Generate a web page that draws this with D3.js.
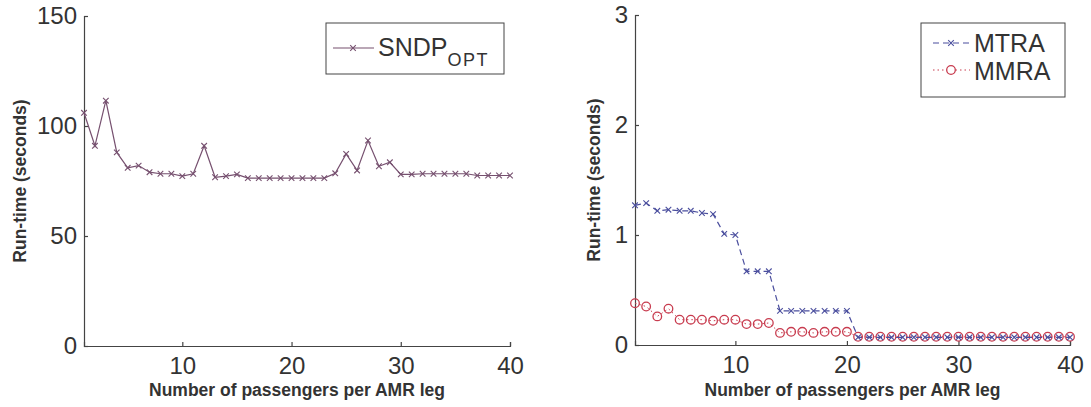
<html>
<head>
<meta charset="utf-8">
<script src="https://cdn.jsdelivr.net/npm/d3@7"></script>
<style>
  body { margin: 0; background: #fff; }
  text { font-family: "Liberation Sans", Arial, sans-serif; fill: #333; }
</style>
</head>
<body>
<svg width="1091" height="407"></svg>
<script>
// passengers per AMR leg
var passengers = [1,2,3,4,5,6,7,8,9,10,11,12,13,14,15,16,17,18,19,20,
                  21,22,23,24,25,26,27,28,29,30,31,32,33,34,35,36,37,38,39,40];

// left panel: SNDP_OPT run-time (seconds)
var sndpOpt = [106, 91, 111.5, 88, 81, 82, 79, 78.3, 78.3, 77.2,
               78.3, 91, 76.7, 77.2, 78, 76.3, 76.3, 76.3, 76.3, 76.3,
               76.3, 76.3, 76.3, 78.5, 87.3, 79.8, 93.4, 81.7, 83.5, 78,
               78, 78.3, 78.3, 78.3, 78.3, 78.3, 77.5, 77.5, 77.5, 77.5];

// right panel: MTRA and MMRA run-time (seconds)
var mtra = [1.27, 1.29, 1.22, 1.23, 1.22, 1.22, 1.20, 1.19, 1.01, 1.00,
            0.67, 0.67, 0.67, 0.31, 0.31, 0.31, 0.31, 0.31, 0.31, 0.31,
            0.07, 0.07, 0.07, 0.07, 0.07, 0.07, 0.07, 0.07, 0.07, 0.07,
            0.07, 0.07, 0.07, 0.07, 0.07, 0.07, 0.07, 0.07, 0.07, 0.07];
var mmra = [0.38, 0.35, 0.26, 0.33, 0.23, 0.23, 0.23, 0.22, 0.23, 0.23,
            0.19, 0.19, 0.20, 0.11, 0.12, 0.12, 0.11, 0.12, 0.12, 0.12,
            0.075, 0.075, 0.075, 0.075, 0.075, 0.075, 0.075, 0.075, 0.075, 0.075,
            0.075, 0.075, 0.075, 0.075, 0.075, 0.075, 0.075, 0.075, 0.075, 0.075];

var xTicks = [10, 20, 30, 40];
var leftYTicks = [0, 50, 100, 150];
var rightYTicks = [0, 1, 2, 3];
var xTitle = 'Number of passengers per AMR leg';
var yTitle = 'Run-time (seconds)';

var svg = d3.select('svg');
var axisColor = '#444';

function xMarker(g, pts, color) {
  g.selectAll(null).data(pts).enter().append('path')
    .attr('d', function(d) {
      var s = 2.8;
      return 'M' + (d[0]-s) + ',' + (d[1]-s) + 'L' + (d[0]+s) + ',' + (d[1]+s) +
             'M' + (d[0]-s) + ',' + (d[1]+s) + 'L' + (d[0]+s) + ',' + (d[1]-s);
    })
    .attr('stroke', color).attr('stroke-width', 1.1).attr('fill', 'none');
}

function drawAxes(x, y, yTicks, yLabelX) {
  var gx = svg.append('g')
    .attr('transform', 'translate(0,' + y.range()[0] + ')')
    .call(d3.axisBottom(x).tickValues(xTicks).tickFormat(d3.format('d'))
      .tickSizeInner(-4).tickSizeOuter(-4).tickPadding(11));
  var gy = svg.append('g')
    .attr('transform', 'translate(' + x.range()[0] + ',0)')
    .call(d3.axisLeft(y).tickValues(yTicks).tickFormat(d3.format('d'))
      .tickSizeInner(-4).tickSizeOuter(-4).tickPadding(7));
  [gx, gy].forEach(function(g) {
    g.selectAll('path, line').attr('stroke', axisColor).attr('stroke-width', 1.2);
    g.selectAll('text').attr('font-size', 24).attr('fill', '#3a3a3a')
      .style('font-family', '"Liberation Sans", Arial, sans-serif');
  });
  svg.append('text')
    .attr('x', (x.range()[0] + x.range()[1]) / 2).attr('y', 396)
    .attr('text-anchor', 'middle').attr('font-size', 17.5).attr('font-weight', 'bold')
    .attr('fill', '#4a4a4a').text(xTitle);
  svg.append('text')
    .attr('transform', 'translate(' + yLabelX + ',' + (y.range()[0] + y.range()[1]) / 2 + ') rotate(-90)')
    .attr('text-anchor', 'middle').attr('font-size', 17.5).attr('font-weight', 'bold')
    .attr('fill', '#4a4a4a').text(yTitle);
}

// ---------- left panel ----------
var x1 = d3.scaleLinear().domain([1, 40]).range([84, 510]);
var y1 = d3.scaleLinear().domain([0, 150]).range([346, 16]);
drawAxes(x1, y1, leftYTicks, 26);

var purple = '#76506f';
var line1 = d3.line().x(function(d, i) { return x1(passengers[i]); }).y(function(d) { return y1(d); });
svg.append('path').datum(sndpOpt).attr('d', line1)
  .attr('fill', 'none').attr('stroke', purple).attr('stroke-width', 1.2);
xMarker(svg.append('g'), sndpOpt.map(function(d, i) { return [x1(passengers[i]), y1(d)]; }), purple);

// legend left
var lg1 = svg.append('g');
lg1.append('rect').attr('x', 326).attr('y', 23).attr('width', 178).attr('height', 51)
  .attr('fill', '#fff').attr('stroke', axisColor).attr('stroke-width', 1);
lg1.append('line').attr('x1', 333).attr('x2', 374).attr('y1', 48).attr('y2', 48)
  .attr('stroke', purple).attr('stroke-width', 1.2);
xMarker(lg1, [[353, 48]], purple);
var t1 = lg1.append('text').attr('x', 378).attr('y', 56).attr('font-size', 25);
t1.append('tspan').text('SNDP');
t1.append('tspan').attr('font-size', 18).attr('dy', 10).attr('letter-spacing', 1.5).text('OPT');

// ---------- right panel ----------
var x2 = d3.scaleLinear().domain([1, 40]).range([635, 1070]);
var y2 = d3.scaleLinear().domain([0, 3]).range([345, 15]);
drawAxes(x2, y2, rightYTicks, 600);

var blue = '#4b4f9e', red = '#c83c4f';
var line2 = d3.line().x(function(d, i) { return x2(passengers[i]); }).y(function(d) { return y2(d); });
svg.append('path').datum(mmra).attr('d', line2)
  .attr('fill', 'none').attr('stroke', red).attr('stroke-width', 1).attr('stroke-dasharray', '1.5,3');
svg.append('g').selectAll('circle').data(mmra).enter().append('circle')
  .attr('cx', function(d, i) { return x2(passengers[i]); })
  .attr('cy', function(d) { return y2(d); })
  .attr('r', 4.3).attr('fill', 'none').attr('stroke', red).attr('stroke-width', 1.3);
svg.append('path').datum(mtra).attr('d', line2)
  .attr('fill', 'none').attr('stroke', blue).attr('stroke-width', 1.2).attr('stroke-dasharray', '6,4');
xMarker(svg.append('g'), mtra.map(function(d, i) { return [x2(passengers[i]), y2(d)]; }), blue);

// legend right
var lg2 = svg.append('g');
lg2.append('rect').attr('x', 921).attr('y', 23).attr('width', 144).attr('height', 74)
  .attr('fill', '#fff').attr('stroke', axisColor).attr('stroke-width', 1);
lg2.append('line').attr('x1', 933).attr('x2', 970).attr('y1', 43).attr('y2', 43)
  .attr('stroke', blue).attr('stroke-width', 1.2).attr('stroke-dasharray', '6,4');
xMarker(lg2, [[951, 43]], blue);
lg2.append('text').attr('x', 974).attr('y', 52).attr('font-size', 25).text('MTRA');
lg2.append('line').attr('x1', 933).attr('x2', 970).attr('y1', 70).attr('y2', 70)
  .attr('stroke', red).attr('stroke-width', 1).attr('stroke-dasharray', '1.5,3');
lg2.append('circle').attr('cx', 951).attr('cy', 70).attr('r', 4.3)
  .attr('fill', '#fff').attr('stroke', red).attr('stroke-width', 1.3);
lg2.append('text').attr('x', 974).attr('y', 80).attr('font-size', 25).text('MMRA');
</script>
</body>
</html>
